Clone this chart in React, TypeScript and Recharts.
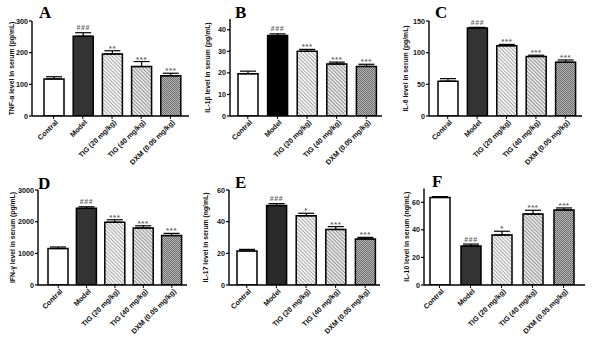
import { Bar, BarChart, Cell, ErrorBar, LabelList, XAxis, YAxis } from "recharts";

const groups = ["Contral", "Model", "TIG (20 mg/kg)", "TIG (40 mg/kg)", "DXM (0.05 mg/kg)"];

const tnfMean = [117, 252, 196, 156, 127];
const tnfErr = [7, 11, 10, 16, 8];
const tnfSig = ["", "###", "**", "***", "***"];
const tnfTicks = [0, 100, 200, 300];

const il1bMean = [19.6, 37.3, 30, 24.1, 23];
const il1bErr = [1.2, 0.8, 0.9, 0.9, 1];
const il1bSig = ["", "###", "***", "***", "***"];
const il1bTicks = [0, 10, 20, 30, 40];

const il6Mean = [55, 139, 111, 94, 85];
const il6Err = [4, 1, 2, 2, 3.5];
const il6Sig = ["", "###", "***", "***", "***"];
const il6Ticks = [0, 50, 100, 150];

const ifnMean = [1150, 2420, 1980, 1800, 1560];
const ifnErr = [50, 50, 80, 70, 70];
const ifnSig = ["", "###", "***", "***", "***"];
const ifnTicks = [0, 1000, 2000, 3000];

const il17Mean = [21.5, 50.2, 43.7, 35.1, 29.1];
const il17Err = [1, 1.2, 1.6, 1.8, 1];
const il17Sig = ["", "###", "*", "***", "***"];
const il17Ticks = [0, 20, 40, 60];

const il10Mean = [63.5, 28.3, 36.3, 51.5, 54.4];
const il10Err = [0.6, 1.4, 2.7, 2.7, 1.5];
const il10Sig = ["", "###", "*", "***", "***"];
const il10Ticks = [0, 20, 40, 60];

const panels = [
  { letter: "A", title: "TNF-α level in serum (pg/mL)", mean: tnfMean, err: tnfErr, sig: tnfSig, ticks: tnfTicks, max: 300 },
  { letter: "B", title: "IL-1β level in serum (pg/mL)", mean: il1bMean, err: il1bErr, sig: il1bSig, ticks: il1bTicks, max: 45 },
  { letter: "C", title: "IL-6 level in serum (pg/mL)", mean: il6Mean, err: il6Err, sig: il6Sig, ticks: il6Ticks, max: 150 },
  { letter: "D", title: "IFN-γ level in serum (pg/mL)", mean: ifnMean, err: ifnErr, sig: ifnSig, ticks: ifnTicks, max: 3000 },
  { letter: "E", title: "IL-17 level in serum (ng/mL)", mean: il17Mean, err: il17Err, sig: il17Sig, ticks: il17Ticks, max: 60 },
  { letter: "F", title: "IL-10 level in serum (ng/mL)", mean: il10Mean, err: il10Err, sig: il10Sig, ticks: il10Ticks, max: 70 },
];

// page positions of each panel (axis x, axis end, plot top/bottom)
const layout = [
  { left: 0, top: 0, h: 177, ax: 32, ex: 189, padL: 7, padR: 4, plotTop: 21, plotBottom: 116, yLabelX: 11, letterX: 39, letterY: 18, model: "#333" },
  { left: 200, top: 0, h: 177, ax: 230, ex: 382, padL: 3, padR: 1, plotTop: 19, plotBottom: 116, yLabelX: 207, letterX: 235, letterY: 18, model: "#000" },
  { left: 400, top: 0, h: 177, ax: 429, ex: 582, padL: 4, padR: 2, plotTop: 21, plotBottom: 116, yLabelX: 405, letterX: 435, letterY: 18, model: "#333" },
  { left: 0, top: 169, h: 185, ax: 38, ex: 187, padL: 6, padR: 1, plotTop: 190, plotBottom: 285, yLabelX: 12, letterX: 38, letterY: 189, model: "#333" },
  { left: 200, top: 169, h: 185, ax: 229, ex: 380, padL: 3, padR: 0, plotTop: 190, plotBottom: 285, yLabelX: 205, letterX: 235, letterY: 188, model: "#2a2a2a" },
  { left: 400, top: 169, h: 185, ax: 424, ex: 585, padL: 0, padR: 6, plotTop: 188.5, plotBottom: 285, yLabelX: 406, letterX: 432, letterY: 187, model: "#333" },
];

const FONT = "'Liberation Sans', Arial, sans-serif";

const CategoryTick = (props: any) => {
  const { x, y, payload } = props;
  return (
    <g transform={`translate(${x + 3},${y + 1})`}>
      <text
        x={0}
        y={0}
        dy="0.35em"
        textAnchor="end"
        transform="rotate(-45)"
        fontSize={7.2}
        fontWeight="bold"
        fontFamily={FONT}
        fill="#111"
      >
        {payload.value}
      </text>
    </g>
  );
};

function Panel({ p, l, idx }: { p: (typeof panels)[number]; l: (typeof layout)[number]; idx: number }) {
  const data = groups.map((name, i) => ({
    name,
    mean: p.mean[i],
    errRange: [0, p.err[i]],
    sig: p.sig[i],
  }));
  const plotH = l.plotBottom - l.plotTop;
  const marginTop = l.plotTop - l.top;
  const fills = ["#fff", l.model, "url(#hatch20)", "url(#hatch40)", "url(#checkDxm)"];

  const renderSig = (props: any) => {
    const { x, y, width, height, index } = props;
    const s = p.sig[index];
    if (!s) return null;
    const v = p.mean[index];
    const ePx = v ? (height * p.err[index]) / v : 0;
    const isStar = s.startsWith("*");
    return (
      <text
        x={x + width / 2}
        y={y - ePx - (isStar ? 0 : 2.5)}
        textAnchor="middle"
        fontSize={isStar ? 8 : 7}
        fontWeight="bold"
        fontFamily={FONT}
        fill="#666"
        letterSpacing={0.6}
      >
        {s}
      </text>
    );
  };

  return (
    <div style={{ position: "absolute", left: l.left, top: l.top }}>
      <BarChart
        width={200}
        height={l.h}
        data={data}
        margin={{ top: marginTop, right: l.left + 200 - l.ex, bottom: 0, left: 0 }}
      >
        <XAxis
          dataKey="name"
          interval={0}
          height={l.h - marginTop - plotH}
          padding={{ left: l.padL, right: l.padR }}
          tickSize={3}
          tickMargin={1}
          axisLine={{ stroke: "#000", strokeWidth: 1.4 }}
          tickLine={{ stroke: "#000", strokeWidth: 1 }}
          tick={<CategoryTick />}
        />
        <YAxis
          width={l.ax - l.left}
          domain={[0, p.max]}
          ticks={p.ticks}
          allowDataOverflow
          tickSize={3}
          tickMargin={1}
          axisLine={{ stroke: "#000", strokeWidth: 1.4 }}
          tickLine={{ stroke: "#000", strokeWidth: 1.2 }}
          tick={{ fontSize: 7.2, fontWeight: "bold", fontFamily: FONT, fill: "#111" }}
        />
        <Bar dataKey="mean" barSize={20} stroke="#000" strokeWidth={1.5} isAnimationActive={false}>
          {data.map((d, i) => (
            <Cell key={`${idx}-${d.name}`} fill={fills[i]} />
          ))}
          <ErrorBar dataKey="errRange" width={8} stroke="#000" strokeWidth={1.2} direction="y" />
          <LabelList dataKey="sig" content={renderSig} />
        </Bar>
      </BarChart>
    </div>
  );
}

export default function App() {
  return (
    <div
      style={{
        position: "absolute",
        left: 0,
        top: 0,
        width: 600,
        height: 354,
        background: "#fff",
        overflow: "hidden",
      }}
    >
      <svg width={0} height={0} style={{ position: "absolute" }}>
        <defs>
          <pattern id="hatch20" width="2.6" height="2.6" patternUnits="userSpaceOnUse" patternTransform="rotate(-45)">
            <rect width="2.6" height="2.6" fill="#f4f4f4" />
            <line x1="0" y1="0" x2="0" y2="2.6" stroke="#808080" strokeWidth="1.2" />
          </pattern>
          <pattern id="hatch40" width="2.6" height="2.6" patternUnits="userSpaceOnUse" patternTransform="rotate(-45)">
            <rect width="2.6" height="2.6" fill="#e6e6e6" />
            <line x1="0" y1="0" x2="0" y2="2.6" stroke="#707070" strokeWidth="1.3" />
          </pattern>
          <pattern id="checkDxm" width="2" height="2" patternUnits="userSpaceOnUse">
            <rect width="2" height="2" fill="#b4b4b4" />
            <rect width="1" height="1" fill="#707070" />
            <rect x="1" y="1" width="1" height="1" fill="#707070" />
          </pattern>
        </defs>
      </svg>
      {panels.map((p, i) => (
        <Panel key={p.letter} p={p} l={layout[i]} idx={i} />
      ))}
      <svg width={600} height={354} style={{ position: "absolute", left: 0, top: 0, pointerEvents: "none" }}>
        {panels.map((p, i) => {
          const l = layout[i];
          const cy = (l.plotTop + l.plotBottom) / 2;
          return (
            <g key={p.letter}>
              <text
                x={l.letterX}
                y={l.letterY}
                fontSize={17}
                fontWeight="bold"
                fontFamily="'Liberation Serif', 'Times New Roman', serif"
                fill="#000"
              >
                {p.letter}
              </text>
              <text
                x={l.yLabelX}
                y={cy}
                transform={`rotate(-90 ${l.yLabelX} ${cy})`}
                textAnchor="middle"
                dominantBaseline="central"
                fontSize={6.8}
                fontWeight="bold"
                fontFamily={FONT}
                fill="#111"
              >
                {p.title}
              </text>
            </g>
          );
        })}
      </svg>
    </div>
  );
}
